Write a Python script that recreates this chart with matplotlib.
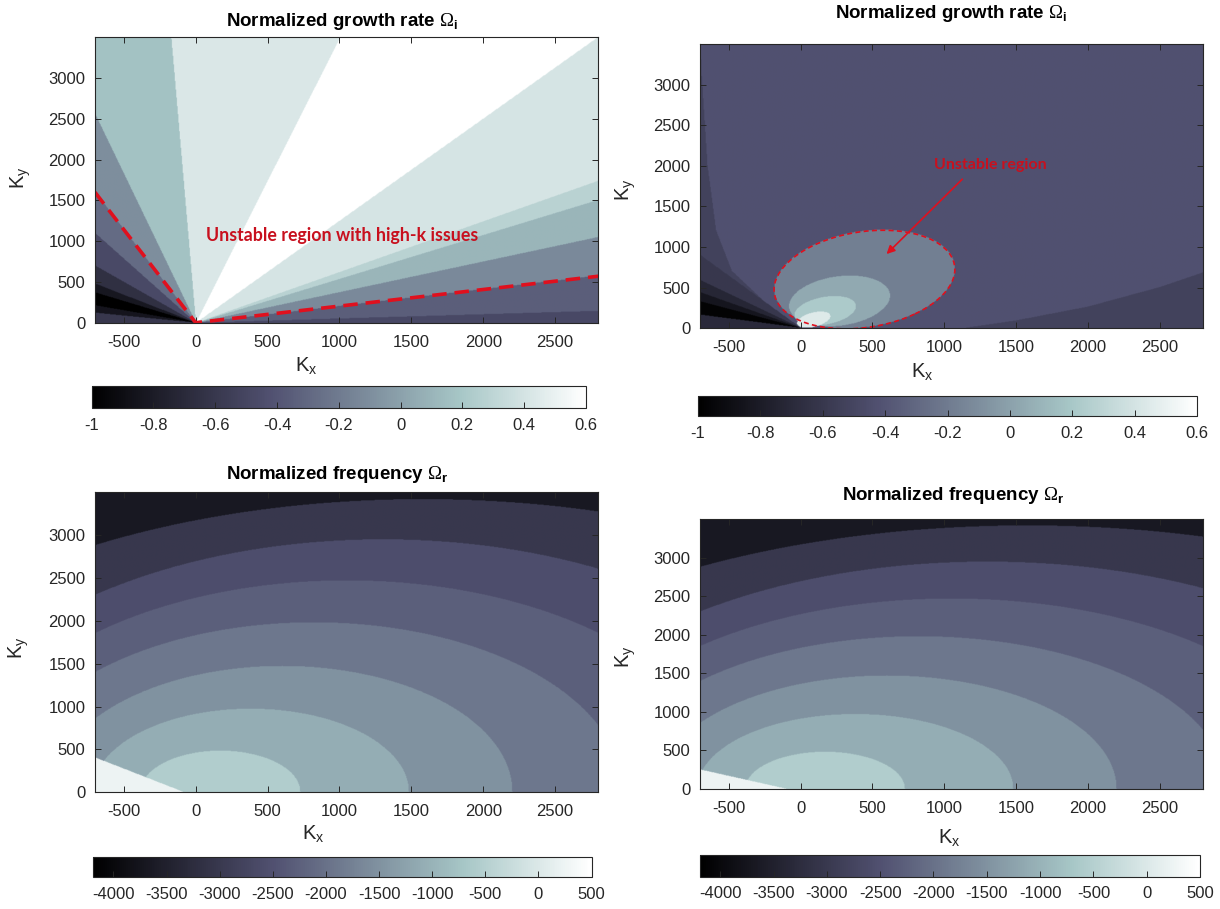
import numpy as np
import matplotlib
matplotlib.use("Agg")
import matplotlib.pyplot as plt
from matplotlib.patches import Ellipse

plt.rcParams['font.family'] = ['Liberation Sans', 'DejaVu Sans']
plt.rcParams['mathtext.fontset'] = 'custom'
plt.rcParams['mathtext.rm'] = 'Liberation Serif'
plt.rcParams['mathtext.sf'] = 'Liberation Sans'
plt.rcParams['mathtext.bf'] = 'Liberation Sans:bold'
plt.rcParams['axes.unicode_minus'] = False

# axes ranges and ticks
kx_lim = [-700, 2800]
ky_lim = [0, 3500]
kx_ticks = [-500, 0, 500, 1000, 1500, 2000, 2500]
ky_ticks = [0, 500, 1000, 1500, 2000, 2500, 3000]
gr_lim = [-1.0, 0.6]
gr_ticks = [-1, -0.8, -0.6, -0.4, -0.2, 0, 0.2, 0.4, 0.6]
gr_ticklabels = ['-1', '-0.8', '-0.6', '-0.4', '-0.2', '0', '0.2', '0.4', '0.6']
fr_lim = [-4190, 490]
fr_ticks = [-4000, -3500, -3000, -2500, -2000, -1500, -1000, -500, 0, 500]

# top-left: growth rate by sector (angle from +Kx axis, degrees)
a_edges = [0, 3, 11.7, 20.6, 28.3, 31.9, 51.4, 74, 92.8, 105.3, 113.6, 122.5,
           135, 145.6, 152, 163, 170, 180]
a_vals = [-0.48, -0.35, -0.12, 0.1, 0.28, 0.41, 0.6, 0.43, 0.17, -0.1, -0.28,
          -0.47, -0.65, -0.83, -1.0, -0.85, -0.6]
a_line_kx = [-700, 0, 2800]
a_line_ky = [1600, 0, 570]
a_note = "Unstable region with high-k issues"
a_note_pos = (75, 1070)

# top-right: growth rate, background + regions
b_bg = -0.42
b_left_ky = [0, 150, 400, 700, 1200, 2000, 3100, 3500]
b_left_kx = [0, -150, -300, -480, -590, -650, -690, -700]
b_left_val = -0.52
b_br_kx = [1150, 1500, 2000, 2500, 2800]
b_br_ky = [0, 90, 260, 500, 680]
b_br_val = -0.52
b_wedge_edges = [128, 140, 148, 155, 167, 180]
b_wedge_vals = [-0.6, -0.72, -0.84, -0.97, -0.7]
b_blob_cx = [445, 270, 170, 90]
b_blob_cy = [600, 330, 210, 100]
b_blob_a = [680, 370, 230, 130]
b_blob_b = [550, 290, 160, 80]
b_blob_ang = [40, 30, 30, 35]
b_blob_val = [-0.18, 0.04, 0.22, 0.45]
b_note = "Unstable region"
b_note_pos = (1320, 2010)
b_arrow_tail = (1140, 1860)
b_arrow_head = (585, 890)

# bottom: frequency, nested boundaries centred on the Kx axis
c_cx = [170, 380, 600, 820, 1050, 1300, 1580]
c_a = [555, 1100, 1600, 2150, 2650, 3200, 4240]
c_b = [480, 970, 1470, 1980, 2470, 2950, 3420]
c_vals = [-560, -1080, -1500, -1900, -2270, -2550, -3020, -3670]
c_wedge_kx = [-700, -90]
c_wedge_ky = [400, 0]
c_wedge_val = 250
d_wedge_kx = [-700, -100]
d_wedge_ky = [250, 0]

kx = np.linspace(kx_lim[0], kx_lim[1], 701)
ky = np.linspace(ky_lim[0], ky_lim[1], 501)
KX, KY = np.meshgrid(kx, ky)
TH = np.degrees(np.arctan2(KY, KX))


def sectors(edges, vals):
    idx = np.clip(np.searchsorted(edges, TH, side='right') - 1, 0, len(vals) - 1)
    return np.array(vals)[idx]


def in_ellipse(cx, cy, a, b, ang):
    t = np.radians(ang)
    dx, dy = KX - cx, KY - cy
    u = dx * np.cos(t) + dy * np.sin(t)
    v = -dx * np.sin(t) + dy * np.cos(t)
    return (u / a) ** 2 + (v / b) ** 2 <= 1


# growth rate fields
Za = sectors(a_edges, a_vals)

Zb = np.full(KX.shape, b_bg)
Zb[KX < np.interp(KY, b_left_ky, b_left_kx)] = b_left_val
Zb[KY < np.interp(KX, b_br_kx, b_br_ky, left=-1)] = b_br_val
wz = sectors([0] + b_wedge_edges, [b_bg] + b_wedge_vals)
Zb = np.where(TH >= b_wedge_edges[0], wz, Zb)
for i in range(len(b_blob_val)):
    Zb[in_ellipse(b_blob_cx[i], b_blob_cy[i], b_blob_a[i], b_blob_b[i], b_blob_ang[i])] = b_blob_val[i]


def freq_field(wedge_kx, wedge_ky):
    band = np.zeros(KX.shape, dtype=int)
    for i in range(len(c_cx)):
        band += (((KX - c_cx[i]) / c_a[i]) ** 2 + (KY / c_b[i]) ** 2 > 1)
    Z = np.array(c_vals)[band]
    edge = np.interp(KX, wedge_kx, wedge_ky, right=-1)
    Z[KY < edge] = c_wedge_val
    return Z


Zc = freq_field(c_wedge_kx, c_wedge_ky)
Zd = freq_field(d_wedge_kx, d_wedge_ky)

W, H = 1220, 909
fig = plt.figure(figsize=(W / 100, H / 100), dpi=100)
ink = '#262626'


def box(l, t, r, b):
    return [l / W, 1 - b / H, (r - l) / W, (b - t) / H]


def panel(rect, crect, Z, lim, cticks, clabels, title, tpos, xlpos, ylpos):
    ax = fig.add_axes(box(*rect))
    im = ax.imshow(Z, extent=[kx_lim[0], kx_lim[1], ky_lim[0], ky_lim[1]], origin='lower',
                   aspect='auto', cmap='bone', vmin=lim[0], vmax=lim[1], interpolation='bilinear')
    ax.set_xlim(kx_lim)
    ax.set_ylim(ky_lim)
    ax.set_xticks(kx_ticks)
    ax.set_yticks(ky_ticks)
    ax.tick_params(direction='in', top=True, right=True, length=4, width=0.7,
                   labelsize=12, colors=ink)
    ax.tick_params(axis='x', pad=8.5)
    ax.tick_params(axis='y', pad=7)
    for s in ax.spines.values():
        s.set_color(ink)
        s.set_linewidth(0.8)
    cax = fig.add_axes(box(*crect))
    cb = fig.colorbar(im, cax=cax, orientation='horizontal')
    cb.set_ticks(cticks)
    cb.set_ticklabels(clabels)
    cax.tick_params(direction='in', length=4, width=0.7, labelsize=12, colors=ink, pad=7)
    cb.outline.set_edgecolor(ink)
    cb.outline.set_linewidth(0.8)
    fig.text(tpos[0] / W, 1 - tpos[1] / H, title, ha='center', va='center',
             fontsize=13.5, fontweight='bold', color='black')
    fig.text(xlpos[0] / W, 1 - xlpos[1] / H, r'K$_\mathsf{x}$', ha='center', va='center',
             fontsize=14.5, color=ink)
    fig.text(ylpos[0] / W, 1 - ylpos[1] / H, r'K$_\mathsf{y}$', ha='center', va='center',
             fontsize=14.5, color=ink, rotation=90)
    return ax


t_gr = r'Normalized growth rate $\Omega_\mathbf{i}$'
t_fr = r'Normalized frequency $\Omega_\mathbf{r}$'
fr_labels = [str(v) for v in fr_ticks]

ax_a = panel((95, 37.3, 598.3, 322.7), (91.7, 386, 586, 408.3), Za, gr_lim, gr_ticks,
             gr_ticklabels, t_gr, (342, 21), (306, 366), (21, 178))
ax_b = panel((700, 44, 1202.7, 328.3), (697.7, 395.5, 1197.3, 416), Zb, gr_lim, gr_ticks,
             gr_ticklabels, t_gr, (951, 14), (922, 372), (626, 190))
ax_c = panel((95, 492.3, 598.3, 792.3), (93.3, 857.3, 591.5, 877.3), Zc, fr_lim, fr_ticks,
             fr_labels, t_fr, (337, 475), (313, 834), (19, 648))
ax_d = panel((700, 519.3, 1202.7, 789), (700, 855, 1200, 876.7), Zd, fr_lim, fr_ticks,
             fr_labels, t_fr, (953, 495), (949, 838), (626, 657))

red = '#e0101e'
ax_a.plot(a_line_kx, a_line_ky, color=red, lw=2.6, ls=(0, (4, 2.2)))
ax_a.text(a_note_pos[0], a_note_pos[1], a_note, color='#c8101e', fontsize=12.8,
          fontweight='bold', family=['Lato', 'DejaVu Sans'], ha='left', va='center')

ax_b.add_patch(Ellipse((b_blob_cx[0], b_blob_cy[0]), 2 * b_blob_a[0], 2 * b_blob_b[0],
                       angle=b_blob_ang[0], fill=False, ec=red, lw=1.2, ls=(0, (3, 2))))
ax_b.annotate('', xy=b_arrow_head, xytext=b_arrow_tail,
              arrowprops=dict(arrowstyle='-|>', color=red, lw=1.2, mutation_scale=12))
ax_b.text(b_note_pos[0], b_note_pos[1], b_note, color='#c8101e', fontsize=11.5,
          fontweight='bold', family=['Lato', 'DejaVu Sans'], ha='center', va='center')

fig.savefig('out.png', dpi=100)
